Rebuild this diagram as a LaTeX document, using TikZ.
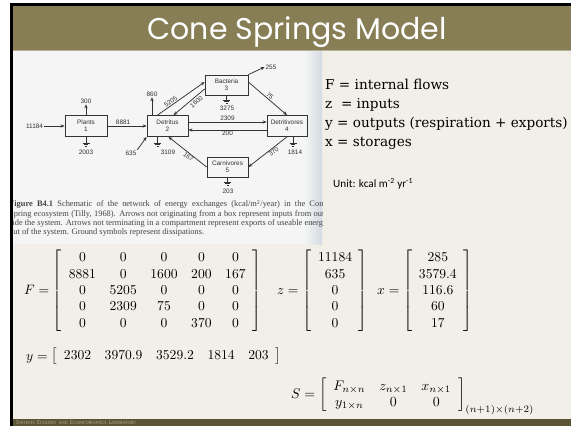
\documentclass[tikz,border=0pt]{standalone}
\usepackage{fontspec}
\usepackage{graphicx}
\usetikzlibrary{arrows.meta}
\newfontfamily\titlefont{Poppins}
\newfontfamily\bodyfont{DejaVu Serif}
\newfontfamily\unitfont{Carlito}
\newfontfamily\capfont{Liberation Serif}
\newfontfamily\diagfont{Liberation Sans}
\newfontfamily\footfont{Carlito}
\definecolor{hdr}{HTML}{877E56}
\definecolor{cream}{HTML}{F2EFE8}
\definecolor{foot}{HTML}{5C5434}
\definecolor{foottxt}{HTML}{ABA38A}
\definecolor{photo}{HTML}{F4F5F4}
\definecolor{photoedge}{HTML}{D3DAE2}
\definecolor{dg}{HTML}{333333}
\definecolor{captxt}{HTML}{444444}
\newcommand\fsc[2]{{\fontsize{6.2}{6.5}\selectfont#1}{\fontsize{4.9}{6.5}\selectfont#2}}
\tikzset{
  comp/.style={draw=dg, line width=0.75pt, minimum width=42pt, minimum height=21pt,
    inner sep=0pt, align=center, text=dg, font=\diagfont\fontsize{6.4}{7}\selectfont},
  flow/.style={draw=dg, line width=0.75pt, -{Stealth[length=4pt,width=3.2pt]}},
  gline/.style={draw=dg, line width=0.75pt},
  lab/.style={text=dg, inner sep=0.8pt, font=\diagfont\fontsize{6.4}{7}\selectfont},
  rtext/.style={anchor=base west, inner sep=0pt, text=black, font=\bodyfont\fontsize{13.6}{15}\selectfont},
  mathnode/.style={anchor=base west, inner sep=0pt, text=black},
  gnd/.pic={\draw[dg, line width=0.75pt] (-3.5,0) -- (3.5,0) (-2.2,1.8) -- (2.2,1.8) (-1,3.6) -- (1,3.6);}
}
\begin{document}
\begin{tikzpicture}[x=1pt,y=-1pt]
\useasboundingbox (0,0) rectangle (571,426);
% slide background and frame
\fill[white] (0,0) rectangle (571,426);
\fill[black] (10,3) rectangle (571,426);
\fill[cream] (13,6) rectangle (571,426);
\fill[hdr] (13,6) rectangle (571,50);
\draw[color=hdr!55!cream, line width=0.8pt] (13,50.4) -- (571,50.4);
\fill[foot] (13,419) rectangle (571,426);
\node[anchor=base, text=white, inner sep=0pt, font=\titlefont\fontsize{30}{30}\selectfont] (title) at (297,39.5) {Cone Springs Model};
\node[anchor=base west, text=foottxt, inner sep=0pt, font=\footfont] (footer) at (16,424.8)
  {\fsc{S}{YSTEMS} \fsc{E}{COLOGY} \fsc{}{AND} \fsc{E}{COINFORMATICS} \fsc{L}{ABORATORY}};
% scanned figure
\fill[photo] (13,51) rectangle (322,244);
\shade[left color=photo, right color=photoedge] (305,51) rectangle (322,244);
\begin{scope}
\clip (13,51) rectangle (322,244);
\node[anchor=north west, inner sep=0pt, align=left, text=captxt,
  font=\capfont\fontsize{8.4}{9.3}\selectfont] (caption) at (9,200)
  {\makebox[318pt][s]{\textbf{Figure B4.1}\enspace Schematic of the network of energy exchanges (kcal/m\textsuperscript{2}/year) in the Cone}\\
   \makebox[318pt][s]{Spring ecosystem (Tilly, 1968). Arrows not originating from a box represent inputs from out-}\\
   \makebox[318pt][s]{side the system. Arrows not terminating in a compartment represent exports of useable energy}\\
   out of the system. Ground symbols represent dissipations.};
\end{scope}
% compartments
\node[comp] (pl) at (86,126) {Plants\\1};
\node[comp, minimum width=41pt] (de) at (167.5,126) {Detritus\\2};
\node[comp, minimum width=43pt, minimum height=20pt] (ba) at (226.5,85) {Bacteria\\3};
\node[comp, minimum width=40pt] (dv) at (287,126) {Detritivores\\4};
\node[comp, minimum width=41pt, minimum height=20pt] (ca) at (227.5,167) {Carnivores\\5};
% inputs and exports
\node[lab, anchor=east] (l11184) at (44,126) {11184};
\draw[flow] (l11184.east) -- (pl.west);
\node[lab] (l300) at (86,101) {300};
\draw[flow] (pl.north) -- (l300.south);
\node[lab] (l860) at (152,94) {860};
\draw[flow] ([xshift=-15.5pt]de.north) -- (l860.south);
\node[lab] (l635) at (131,153) {635};
\draw[flow] (l635.north east) -- (de.south west);
\node[lab] (l255) at (271,67) {255};
\draw[flow] (ba.north east) -- (l255.west);
% internal flows
\draw[flow] (pl) -- node[lab, above, pos=0.4] (l8881) {8881} (de);
\draw[flow] ([xshift=-10pt]de.north) -- node[lab, sloped, above, pos=0.32] (l5205) {5205} ([yshift=3pt]ba.west);
\draw[flow] ([yshift=-4pt]ba.west) -- node[lab, sloped, below=1.2pt, pos=0.36] (l1600) {1600} ([xshift=6pt]de.north);
\draw[flow] ([yshift=4pt]de.east) -- node[lab, above] (l2309) {2309} ([yshift=4pt]dv.west);
\draw[flow] ([yshift=-4pt]dv.west) -- node[lab, below] (l200) {200} ([yshift=-4pt]de.east);
\draw[flow] ([yshift=3pt]ba.east) -- node[lab, sloped, above] (l75) {75} (dv.north);
\draw[flow] (dv.south) -- node[lab, sloped, below, pos=0.4] (l370) {370} (ca.east);
\draw[flow] (ca.west) -- node[lab, sloped, below, pos=0.42] (l167) {167} ([xshift=1pt]de.south);
% dissipations
\coordinate (g1) at (86,143);
\draw[gline] (pl.south) -- (g1); \pic at (g1) {gnd};
\node[lab] (l2003) at (86,152.5) {2003};
\coordinate (g2) at (157.5,143);
\draw[gline] ([xshift=-10pt]de.south) -- (g2); \pic at (g2) {gnd};
\node[lab] (l3109) at (168,152.5) {3109};
\coordinate (g3) at (226.5,100);
\draw[gline] (ba.south) -- (g3); \pic at (g3) {gnd};
\node[lab] (l3275) at (227,108.5) {3275};
\coordinate (g4) at (293,143);
\draw[gline] ([xshift=6pt]dv.south) -- (g4); \pic at (g4) {gnd};
\node[lab] (l1814) at (295,152.5) {1814};
\coordinate (g5) at (227.5,182);
\draw[gline] (ca.south) -- (g5); \pic at (g5) {gnd};
\node[lab] (l203) at (228,191) {203};
% definitions on the right
\node[rtext] (tF) at (325,89) {F = internal flows};
\node[rtext] (tz) at (325,108) {z~ = inputs};
\node[rtext] (ty) at (325,127) {y = outputs (respiration + exports)};
\node[rtext] (tx) at (325,146) {x = storages};
\node[anchor=base west, inner sep=0pt, font=\unitfont\fontsize{11.2}{12}\selectfont] (unit) at (333,187) {Unit: kcal m\textsuperscript{-2} yr\textsuperscript{-1}};
% matrices
\node[mathnode] (Fm) at (24,294.5) {\scalebox{1.36}{$F = \left[\begin{array}{ccccc}
 0&0&0&0&0\\ 8881&0&1600&200&167\\ 0&5205&0&0&0\\ 0&2309&75&0&0\\ 0&0&0&370&0
 \end{array}\right]$}};
\node[mathnode] (zv) at (277,294.5) {\scalebox{1.36}{$z = \left[\begin{array}{c}
 11184\\ 635\\ 0\\ 0\\ 0 \end{array}\right]$}};
\node[mathnode] (xv) at (377,294.5) {\scalebox{1.36}{$x = \left[\begin{array}{c}
 285\\ 3579.4\\ 116.6\\ 60\\ 17 \end{array}\right]$}};
\node[mathnode] (yr) at (26,360) {\scalebox{1.36}{$y = \left[\begin{array}{ccccc}
 2302&3970.9&3529.2&1814&203 \end{array}\right]$}};
\node[mathnode] (Sm) at (291,398.5) {\scalebox{1.39}{$S = \left[\begin{array}{ccc}
 F_{n\times n}&z_{n\times 1}&x_{n\times 1}\\ y_{1\times n}&0&0
 \end{array}\right]_{(n+1)\times(n+2)}$}};
\end{tikzpicture}
\end{document}
